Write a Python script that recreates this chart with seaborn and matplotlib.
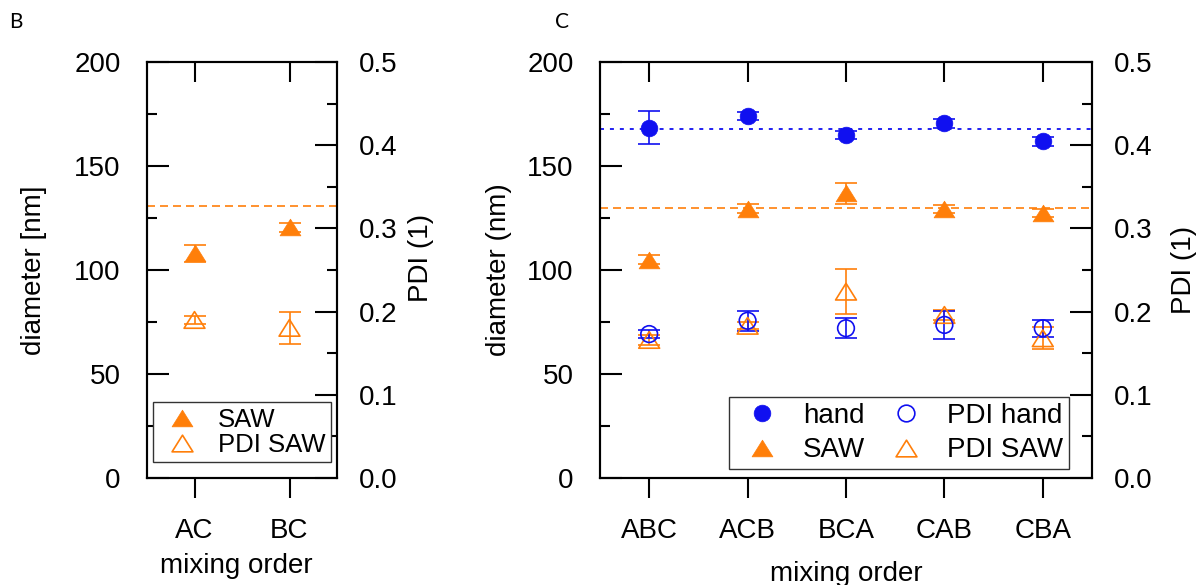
import numpy as np
import pandas as pd
import matplotlib
matplotlib.use('Agg')
import matplotlib.pyplot as plt
from matplotlib.lines import Line2D
from matplotlib.path import Path
from matplotlib.ticker import MultipleLocator, FormatStrFormatter
import seaborn as sns

# ---- panel B data ----
orders_b = ['AC', 'BC']
saw_b = [108, 120.5]
saw_b_err = [4, 2]
pdi_saw_b = [0.19, 0.1805]
pdi_saw_b_err = [0.005, 0.0195]
saw_b_mean = 130.8

# ---- panel C data ----
orders_c = ['ABC', 'ACB', 'BCA', 'CAB', 'CBA']
hand_c = [168.5, 174, 164.8, 170.5, 161.8]
hand_c_err = [8, 2, 2, 2, 2]
saw_c = [105, 129.5, 136.8, 129.2, 127.5]
saw_c_err = [2, 2, 5, 2, 2]
pdi_hand_c = [0.173, 0.189, 0.180, 0.184, 0.180]
pdi_hand_c_err = [0.005, 0.012, 0.012, 0.017, 0.010]
pdi_saw_c = [0.166, 0.183, 0.224, 0.196, 0.168]
pdi_saw_c_err = [0.006, 0.004, 0.027, 0.006, 0.013]
hand_c_mean = 167.8
saw_c_mean = 129.8

BLUE = '#1010f0'
ORANGE = '#ff7f0a'

# triangle marker centred on its bounding box
TRI = Path(np.array([[-1, -0.8], [1, -0.8], [0, 0.8], [-1, -0.8]]), closed=True)

sns.set_theme(style='ticks', rc={
    'axes.edgecolor': 'black', 'xtick.color': 'black', 'ytick.color': 'black',
    'text.color': 'black', 'axes.labelcolor': 'black', 'axes.linewidth': 1.5,
    'ytick.direction': 'in', 'ytick.left': True, 'ytick.right': False,
})
plt.rcParams['font.family'] = ['Liberation Sans', 'DejaVu Sans']


def draw_series(ax, x, y, err, color, marker, filled, ms):
    ax.errorbar(x, y, yerr=err, fmt='none', ecolor=color, elinewidth=1.2,
                capsize=8, capthick=1.2, zorder=2)
    df = pd.DataFrame({'x': x, 'y': y})
    sns.scatterplot(data=df, x='x', y='y', ax=ax, marker=marker, s=ms ** 2,
                    color=color, facecolor=color if filled else 'none',
                    edgecolor=color, linewidth=0.5 if filled else 1.2,
                    zorder=3, legend=False)


def style_axes(ax, ax2, labels, xlabel_pos, ylabel_pos, y2label_pos):
    n = len(labels)
    ax.set_xlim(-0.5, n - 0.5)
    ax.set_xticks(np.arange(n))
    ax.set_xticklabels(labels)
    ax.set_ylim(0, 200)
    ax2.set_ylim(0, 0.5)
    ax.yaxis.set_major_locator(MultipleLocator(50))
    ax.yaxis.set_minor_locator(MultipleLocator(25))
    ax2.yaxis.set_major_locator(MultipleLocator(0.1))
    ax2.yaxis.set_minor_locator(MultipleLocator(0.05))
    ax2.yaxis.set_major_formatter(FormatStrFormatter('%.1f'))
    for a in (ax, ax2):
        a.tick_params(axis='y', which='major', direction='in', length=15.5,
                      width=1.5, labelsize=20, pad=19)
        a.tick_params(axis='y', which='minor', direction='in', length=7, width=1.5)
        for sp in a.spines.values():
            sp.set_visible(True)
            sp.set_linewidth(1.5)
            sp.set_color('black')
    ax.tick_params(axis='y', which='both', left=True, right=False)
    ax2.tick_params(axis='y', which='both', left=False, right=True, pad=16)
    ax.tick_params(axis='x', which='major', direction='out', length=14.5,
                   width=1.5, labelsize=20, pad=14, top=False)
    # top ticks pointing inward, drawn on the twin axis
    ax2.xaxis.set_visible(True)
    ax2.set_xlabel('')
    ax2.tick_params(axis='x', which='major', direction='in', length=14.5, width=1.5,
                    bottom=False, top=True, labelbottom=False, labeltop=False)
    ax.xaxis.set_label_coords(*xlabel_pos)
    ax.yaxis.set_label_coords(*ylabel_pos)
    ax2.yaxis.set_label_coords(*y2label_pos)


fig = plt.figure(figsize=(12.03, 5.85), dpi=100)
fig.patch.set_facecolor('white')

# ---------------- panel B ----------------
axB = fig.add_axes([147 / 1203, 1 - 478 / 585, 190 / 1203, 416 / 585])
axB2 = axB.twinx()
xb = np.arange(len(orders_b))
axB.axhline(saw_b_mean, color=ORANGE, lw=1.2, ls=(0, (4.8, 3)), zorder=1)
draw_series(axB, xb, saw_b, saw_b_err, ORANGE, TRI, True, 15)
draw_series(axB2, xb, pdi_saw_b, pdi_saw_b_err, ORANGE, TRI, False, 15)
axB.set_xlabel('mixing order', fontsize=20)
axB.set_ylabel('diameter [nm]', fontsize=20)
axB2.set_ylabel('PDI (1)', fontsize=20)
style_axes(axB, axB2, orders_b, (0.47, -0.18), (-0.526, 0.5), (1.374, 0.53))

handles_b = [
    Line2D([], [], ls='none', marker=TRI, ms=15, color=ORANGE, mfc=ORANGE, mew=0.5),
    Line2D([], [], ls='none', marker=TRI, ms=15, color=ORANGE, mfc='none', mew=1.2),
]
legB = axB2.legend(handles_b, ['SAW', 'PDI SAW'], loc='lower left',
                   bbox_to_anchor=(0.0316, 0.0385), borderaxespad=0, fontsize=18.5,
                   frameon=True, fancybox=False, framealpha=1, edgecolor='#333333',
                   handlelength=1.86, handletextpad=0.47, labelspacing=0.05,
                   borderpad=0.2)
legB.get_frame().set_linewidth(1.0)

# ---------------- panel C ----------------
axC = fig.add_axes([600 / 1203, 1 - 478 / 585, 492 / 1203, 416 / 585])
axC2 = axC.twinx()
xc = np.arange(len(orders_c))
axC.axhline(hand_c_mean, color=BLUE, lw=1.3, ls=(0, (2.2, 3.3)), zorder=1)
axC.axhline(saw_c_mean, color=ORANGE, lw=1.2, ls=(0, (4.8, 3)), zorder=1)
draw_series(axC, xc, hand_c, hand_c_err, BLUE, 'o', True, 12)
draw_series(axC, xc, saw_c, saw_c_err, ORANGE, TRI, True, 15)
draw_series(axC2, xc, pdi_saw_c, pdi_saw_c_err, ORANGE, TRI, False, 15)
draw_series(axC2, xc, pdi_hand_c, pdi_hand_c_err, BLUE, 'o', False, 12)
axC.set_xlabel('mixing order', fontsize=20)
axC.set_ylabel('diameter (nm)', fontsize=20)
axC2.set_ylabel('PDI (1)', fontsize=20)
style_axes(axC, axC2, orders_c, (0.5, -0.2), (-0.179, 0.5), (1.16, 0.5))

handles_c = [
    Line2D([], [], ls='none', marker='o', ms=12, color=BLUE, mfc=BLUE, mew=0.5),
    Line2D([], [], ls='none', marker=TRI, ms=15, color=ORANGE, mfc=ORANGE, mew=0.5),
    Line2D([], [], ls='none', marker='o', ms=12, color=BLUE, mfc='none', mew=1.2),
    Line2D([], [], ls='none', marker=TRI, ms=15, color=ORANGE, mfc='none', mew=1.2),
]
legC = axC2.legend(handles_c, ['hand', 'SAW', 'PDI hand', 'PDI SAW'], ncol=2,
                   loc='lower left', bbox_to_anchor=(0.262, 0.0216),
                   borderaxespad=0, fontsize=20, frameon=True, fancybox=False,
                   framealpha=1, edgecolor='#333333', handlelength=1.97,
                   handletextpad=0.49, labelspacing=0.31, columnspacing=0.5,
                   borderpad=0.2)
legC.get_frame().set_linewidth(1.0)

# panel letters
fig.text(9 / 1203, 1 - 22 / 585, 'B', fontsize=15, va='center', family=['Lato', 'DejaVu Sans'])
fig.text(555 / 1203, 1 - 22 / 585, 'C', fontsize=15, va='center', family=['Lato', 'DejaVu Sans'])

fig.savefig('out.png', dpi=100)
